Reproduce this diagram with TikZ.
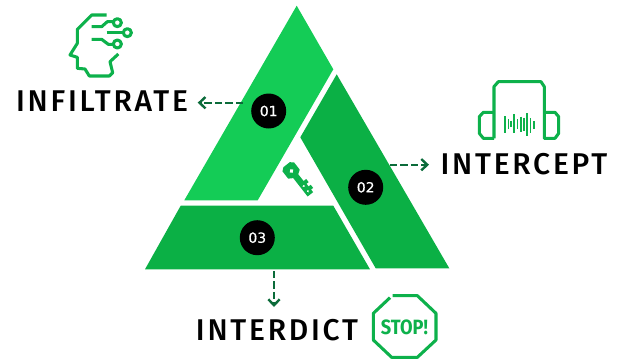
\documentclass[tikz,border=0pt]{standalone}
\usepackage{fontspec}
\setmainfont{Liberation Sans}
\newfontfamily\labfont[LetterSpace=9.2]{Fira Sans Medium}
\newfontfamily\stopfont{Fira Sans}
\newfontfamily\numfont[FakeBold=0.4]{DejaVu Sans}
\usetikzlibrary{arrows.meta}
\definecolor{gA}{HTML}{14CC56}
\definecolor{gB}{HTML}{0BB045}
\definecolor{gI}{HTML}{0DB14B}
\definecolor{gD}{HTML}{0B6B3A}
\tikzset{
  piece/.style={fill=#1,draw=none},
  numdot/.style={circle,fill=black,minimum size=35*0.75pt,inner sep=0pt,text=white,font=\numfont\fontsize{10.5}{12}\selectfont},
  biglabel/.style={inner sep=0pt,text=black,font=\labfont\fontsize{22.5}{24}\selectfont},
  icon/.style={draw=gI,line width=2.3pt,line join=round,fill=none},
  flow/.style={draw=gD,line width=1.8pt,dash pattern=on 5.5pt off 2.3pt,-{Straight Barb[length=4.5pt,width=8.5pt,line width=1.8pt]}}
}
\begin{document}
\begin{tikzpicture}[x=0.75pt,y=-0.75pt]
\useasboundingbox (0,0) rectangle (619,358);
% triangle pieces
\fill[piece=gA] (296.7,5.7) -- (333.3,69.3) -- (257.7,200.3) -- (184.3,200.3) -- cycle;
\fill[piece=gB] (336.7,74.3) -- (449.3,268.3) -- (375.7,268.3) -- (300.3,137.3) -- cycle;
\fill[piece=gB] (180.7,205.7) -- (333.3,205.7) -- (370,269.3) -- (145,269.3) -- cycle;
% number dots
\node[numdot] (n1) at (268.7,111) {01};
\node[numdot] (n2) at (365.7,187.3) {02};
\node[numdot] (n3) at (257.3,237.7) {03};
% labels
\node[biglabel] (inf) at (102,101) {INFILTRATE};
\node[biglabel] (int) at (524,164) {INTERCEPT};
\node[biglabel] (ind) at (277,330) {INTERDICT};
% connectors
\coordinate (a1s) at (243,102.7);
\coordinate (a1e) at (197.7,102.7);
\coordinate (a2s) at (390,164.7);
\coordinate (a2e) at (429,164.7);
\coordinate (a3s) at (274,271);
\coordinate (a3e) at (274,307);
\draw[flow] (a1s) -- (a1e);
\draw[flow] (a2s) -- (a2e);
\draw[flow] (a3s) -- (a3e);
% head icon
\begin{scope}[x=0.25pt,y=-0.25pt]
\draw[icon] (320,45) -- (275,45) -- (232,88) -- (232,130) -- (210,165) -- (232,172) -- (232,205) -- (255,207) -- (268,228) -- (328,228) -- (338,218) -- (330,185) -- (355,162);
\draw[icon] (275,80) -- (305,80) -- (322,65) -- (340,65);
\draw[icon] (352,68) circle[radius=12];
\draw[icon] (320,98) -- (370,98);
\draw[icon] (382,98) circle[radius=12];
\draw[icon] (275,118) -- (305,118) -- (325,133) -- (340,133);
\draw[icon] (352,132) circle[radius=12];
\end{scope}
% headphones icon
\begin{scope}[xshift=330pt,yshift=-52.5pt,x=0.25pt,y=-0.25pt]
\draw[icon] (162,205) -- (162,50) -- (175,35) -- (303,35) -- (313,50) -- (313,205) -- (345,205) -- (356,190) -- (356,140) -- (345,127) -- (313,127);
\draw[icon] (162,127) -- (130,127) -- (118,140) -- (118,190) -- (130,205) -- (162,205);
\foreach \bx/\ba/\bb in {195/138/188,205/148/178,213/152/172,222/133/190,233/148/178,243/140/185,252/143/182,261/130/197,271/145/190,282/153/178}
  \draw[icon,line width=1.2pt] (\bx,\ba) -- (\bx,\bb);
\end{scope}
% stop sign
\begin{scope}[xshift=142.5pt,yshift=-195pt,x=0.25pt,y=-0.25pt]
\draw[icon] (608,107) -- (682,107) -- (738,160) -- (738,240) -- (682,292) -- (605,292) -- (550,240) -- (550,160) -- (600,113);
\end{scope}
\node[inner sep=0pt,text=gI,xscale=0.88,font=\stopfont\bfseries\fontsize{15.5}{16}\selectfont] (stop) at (404.5,327.5) {STOP!};
% key
\begin{scope}[shift={(291.5,171)},x=0.25pt,y=0.25pt,rotate=-52]
\fill[gI,even odd rule] (-24,-12) -- (-16,-22) -- (12,-22) -- (20,-9) -- (90,-9) -- (90,12) -- (80,12) -- (80,20) -- (68,20) -- (68,12) -- (58,12) -- (58,20) -- (46,20) -- (46,10) -- (20,10) -- (12,22) -- (-16,22) -- (-24,12) -- cycle
  (0,-7) -- (7,0) -- (0,7) -- (-7,0) -- cycle
  (58,-3) -- (62,1) -- (58,5) -- (54,1) -- cycle
  (78,-3) -- (82,1) -- (78,5) -- (74,1) -- cycle;
\end{scope}
\end{tikzpicture}
\end{document}
